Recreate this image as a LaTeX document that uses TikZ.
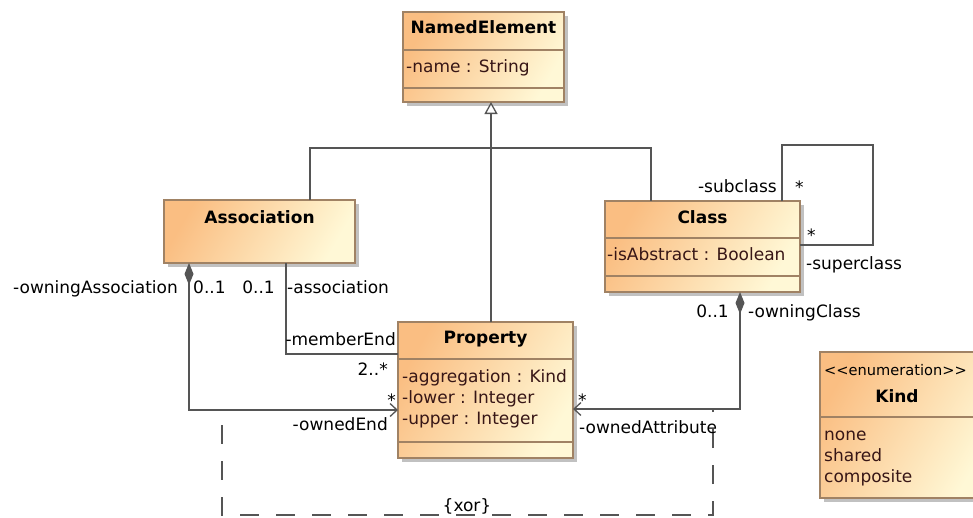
\documentclass[tikz,border=0pt]{standalone}
\usepackage{fontspec}
\setmainfont{DejaVu Sans}
\usetikzlibrary{arrows.meta,shadows}
\definecolor{boxA}{RGB}{250,190,130}
\definecolor{boxB}{RGB}{255,248,214}
\definecolor{boxline}{RGB}{160,130,100}
\definecolor{connc}{RGB}{85,85,85}
\definecolor{attrc}{RGB}{55,22,22}
\begin{document}
\begin{tikzpicture}[x=1pt,y=-1pt,
  umlbox/.style={draw=boxline, line width=1.1pt, left color=boxA, right color=boxB,
    shading angle=60, inner sep=0pt, outer sep=0pt, anchor=north west,
    drop shadow={shadow xshift=4pt, shadow yshift=-4pt, fill=black!30, opacity=0.8}},
  sep/.style={draw=boxline, line width=1.1pt},
  txt/.style={font=\fontsize{17}{20}\selectfont, inner sep=0pt, text=black},
  attr/.style={txt, text=attrc, anchor=base west},
  ttl/.style={font=\fontsize{17}{20}\selectfont\bfseries, inner sep=0pt, anchor=base},
  lw/.style={txt, anchor=base west},
  le/.style={txt, anchor=base east},
  conn/.style={draw=connc, line width=1.3pt},
  comp/.style={conn, {Diamond[length=22pt,width=9pt]}-{Straight Barb[length=7pt,width=13pt]}},
  xorline/.style={conn, dash pattern=on 19pt off 17pt, dash phase=21pt}
]
\useasboundingbox (0,0) rectangle (973,517);
\fill[white] (0,0) rectangle (973,517);
\clip (0,0) rectangle (973,517);

% ---------- boxes ----------
\node[umlbox, minimum width=161pt, minimum height=90pt] (ne) at (403,12) {};
\draw[sep] (403,50) -- (564,50);
\draw[sep] (403,88) -- (564,88);
\node[ttl] (ne-t) at (483.5,33) {NamedElement};
\node[attr] (ne-a) at (406,72) {-name : String};

\node[umlbox, minimum width=191pt, minimum height=63pt] (assoc) at (164,200) {};
\node[ttl] (assoc-t) at (259.5,223) {Association};

\node[umlbox, minimum width=195pt, minimum height=91pt] (class) at (605,201) {};
\draw[sep] (605,238) -- (800,238);
\draw[sep] (605,276) -- (800,276);
\node[ttl] (class-t) at (702.5,223) {Class};
\node[attr] (class-a) at (607,260) {-isAbstract : Boolean};

\node[umlbox, minimum width=175pt, minimum height=136pt] (prop) at (398,322) {};
\draw[sep] (398,359) -- (573,359);
\draw[sep] (398,442) -- (573,442);
\node[ttl] (prop-t) at (485.5,343) {Property};
\node[attr] (prop-a1) at (402,382) {-aggregation : Kind};
\node[attr] (prop-a2) at (402,403) {-lower : Integer};
\node[attr] (prop-a3) at (402,424) {-upper : Integer};

\node[umlbox, minimum width=170pt, minimum height=146pt] (kind) at (820,352) {};
\draw[sep] (820,417) -- (990,417);
\node[attr, text=black, font=\fontsize{14.6}{17}\selectfont] (kind-s) at (824,375) {{<}{<}enumeration{>}{>}};
\node[ttl] (kind-t) at (897,402) {Kind};
\node[attr] (kind-a1) at (824,440) {none};
\node[attr] (kind-a2) at (824,461) {shared};
\node[attr] (kind-a3) at (824,482) {composite};

% ---------- generalization ----------
\coordinate (gj) at (491,148);
\coordinate (ga) at (310,148);
\coordinate (gc) at (651,148);
\draw[conn, -{Triangle[open,length=12pt,width=13pt,fill=white]}] (prop.north -| gj) -- (ne.south -| gj);
\draw[conn] (assoc.north -| ga) -- (ga) -- (gc) -- (class.north -| gc);

% ---------- memberEnd ----------
\coordinate (me) at (286,354);
\draw[conn] (assoc.south -| me) -- (me) -- (prop.west |- me);

% ---------- ownedEnd ----------
\coordinate (oe) at (189,410);
\draw[comp] (assoc.south -| oe) -- (oe) -- (prop.west |- oe);

% ---------- ownedAttribute ----------
\coordinate (oc) at (740,409);
\draw[comp] (class.south -| oc) -- (oc) -- (prop.east |- oc);

% ---------- self loop ----------
\coordinate (s1) at (782,145);
\coordinate (s2) at (873,145);
\coordinate (s3) at (873,245);
\draw[conn, line width=1.1pt] (class.north -| s1) -- (s1) -- (s2) -- (s3) -- (class.east |- s3);

% ---------- xor constraint ----------
\coordinate (x1) at (222,410);
\coordinate (x2) at (222,515);
\coordinate (x3) at (713,515);
\coordinate (x4) at (713,409);
\draw[xorline] (x1) -- (x2) -- (x3) -- (x4);
\node[txt, anchor=base] (xor) at (467,511) {\{xor\}};

% ---------- labels ----------
\node[le] (l-oa) at (178,293) {-owningAssociation};
\node[lw] (l-oa1) at (193,293) {0..1};
\node[le] (l-as1) at (275,293) {0..1};
\node[lw] (l-as) at (287,293) {-association};
\node[le] (l-me) at (396,345) {-memberEnd};
\node[le] (l-me2) at (388,375) {2..*};
\node[le] (l-oes) at (396,406) {*};
\node[le] (l-oe) at (388,430) {-ownedEnd};
\node[lw] (l-oas) at (578,406) {*};
\node[lw] (l-oat) at (579,433) {-ownedAttribute};
\node[le] (l-oc1) at (729,317) {0..1};
\node[lw] (l-oc) at (748,317) {-owningClass};
\node[le] (l-sub) at (777,192) {-subclass};
\node[lw] (l-subs) at (795,193) {*};
\node[lw] (l-sups) at (807,241) {*};
\node[lw] (l-sup) at (806,269) {-superclass};
\end{tikzpicture}
\end{document}
